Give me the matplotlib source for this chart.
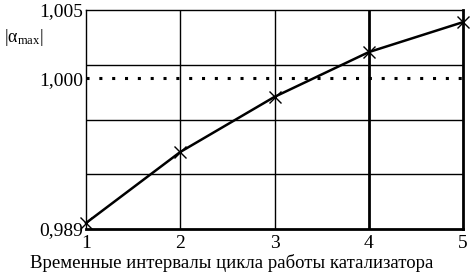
import numpy as np
import matplotlib.pyplot as plt

plt.rcParams['font.family'] = ['Liberation Serif', 'DejaVu Serif']
plt.rcParams['mathtext.fontset'] = 'custom'
plt.rcParams['mathtext.rm'] = 'Liberation Serif'
plt.rcParams['mathtext.it'] = 'Liberation Serif'

# данные
x_vals = [1, 2, 3, 4, 5]
alpha_max = [0.98944, 0.99463, 0.99866, 1.00193, 1.00412]
y_ticks = [0.989, 1.000, 1.005]
y_tick_labels = ['0,989', '1,000', '1,005']
y_grid = [0.993, 0.997, 1.001]
x_grid = [2, 3]
level = 1.000

fig = plt.figure(figsize=(4.72, 2.72), dpi=100)
ax = fig.add_axes([0.1822, 0.158, 0.799, 0.805])

for g in y_grid:
    ax.axhline(g, color='black', lw=1.0, zorder=1)
for g in x_grid:
    ax.axvline(g, color='black', lw=1.0, zorder=1)
ax.axvline(4, color='black', lw=2.0, zorder=1)

ax.axhline(level, color='black', lw=2.2, linestyle=(0, (1, 3.2)), zorder=2)
ax.plot(x_vals, alpha_max, color='black', lw=1.8, marker='x', ms=8,
        mew=1.0, zorder=3, clip_on=False)

ax.set_xlim(1, 5)
ax.set_ylim(0.989, 1.005)
ax.set_xticks(x_vals)
ax.set_xticklabels([str(v) for v in x_vals])
ax.set_yticks(y_ticks)
ax.set_yticklabels(y_tick_labels)
ax.tick_params(length=0, labelsize=14, colors='black')
ax.tick_params(axis='x', pad=4)
ax.tick_params(axis='y', pad=2)

for side in ['top', 'left']:
    ax.spines[side].set_linewidth(1.0)
for side in ['bottom', 'right']:
    ax.spines[side].set_linewidth(2.0)

fig.text(232 / 472, 1 - 263 / 272, 'Временные интервалы цикла работы катализатора',
         fontsize=13.5, ha='center', va='center')
fig.text(0.008, 1 - 38 / 272, r'$|\mathrm{\alpha}_{\rm max}|$', fontsize=13,
         ha='left', va='center')

fig.savefig('out.png', dpi=100)
